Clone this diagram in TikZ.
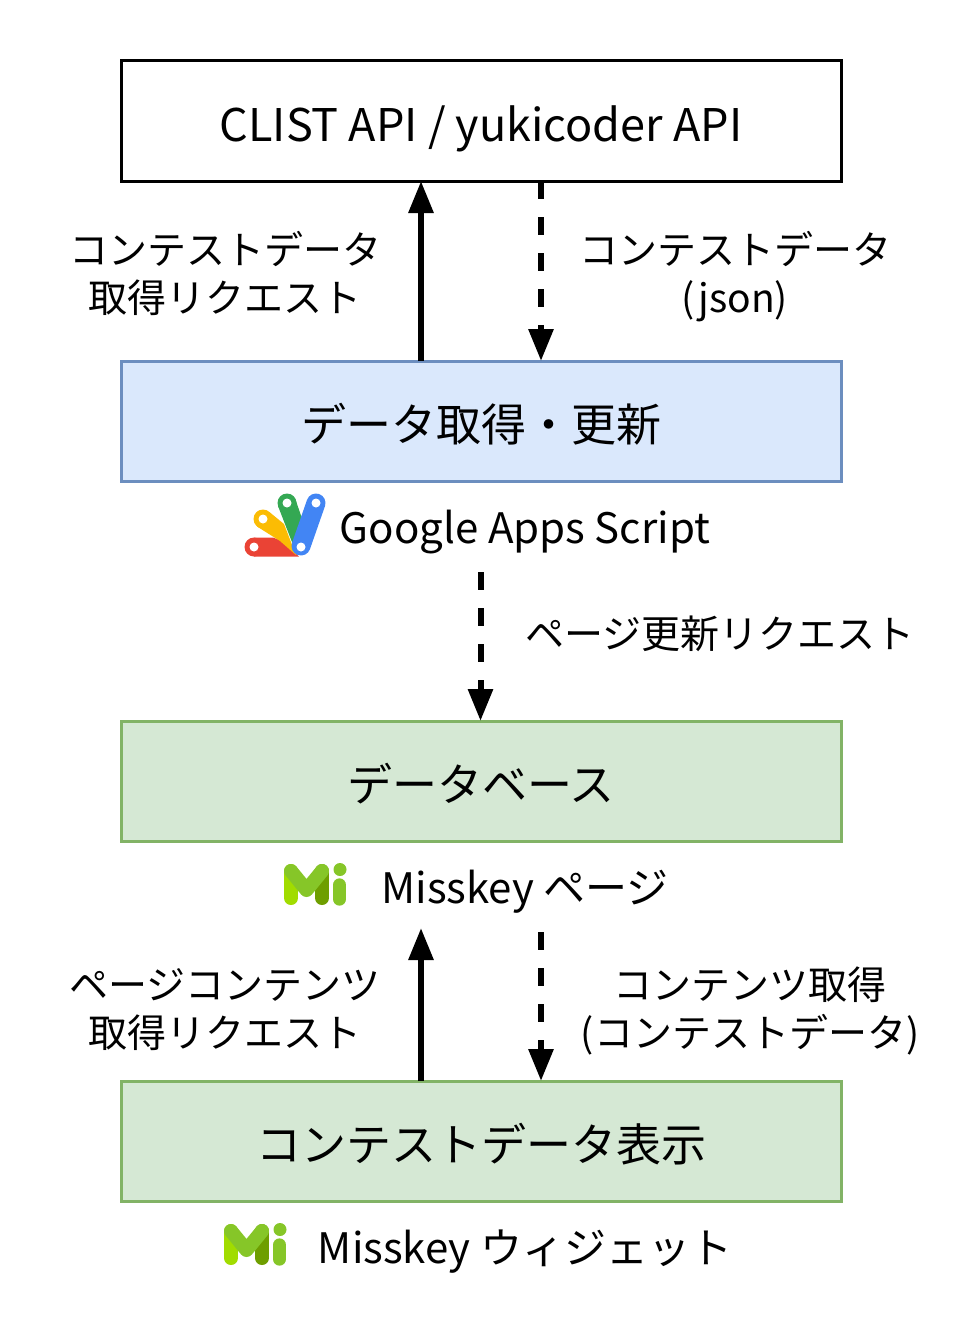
\documentclass[tikz,border=0pt]{standalone}
\usepackage{fontspec}
\setmainfont{Noto Sans CJK JP}
\definecolor{flowBlue}{RGB}{218,232,252}
\definecolor{flowBlueLine}{RGB}{108,142,191}
\definecolor{flowGreen}{RGB}{213,232,212}
\definecolor{flowGreenLine}{RGB}{130,179,102}
\definecolor{gasRed}{RGB}{234,67,53}
\definecolor{gasYellow}{RGB}{251,188,4}
\definecolor{gasGreen}{RGB}{52,168,83}
\definecolor{gasBlue}{RGB}{66,133,244}
\definecolor{miBright}{RGB}{161,220,0}
\definecolor{miMid}{RGB}{134,198,40}
\definecolor{miDark}{RGB}{110,158,0}
\usetikzlibrary{arrows.meta,positioning}
\tikzset{
  flowbox/.style={rectangle, draw=black, fill=white, line width=2.25pt, outer sep=0pt,
        minimum width=540pt, minimum height=90pt, text height=35pt, text depth=5pt,
        font=\fontsize{33.75}{40}\selectfont},
  caption/.style={inner sep=0pt, font=\fontsize{29.25}{36}\selectfont, align=center},
  logotext/.style={inner sep=0pt, font=\fontsize{31.5}{38}\selectfont},
  solidflow/.style={line width=4.5pt, -{Triangle[length=24pt,width=18pt]}},
  dashflow/.style={line width=4.5pt, dash pattern=on 13.5pt off 13.5pt, -{Triangle[length=24pt,width=18pt]}}
}
\newcommand{\misskeylogo}[2]{%
  \begin{scope}[shift={(#1,#2)}]
    \draw[miBright, line width=10.5pt, line cap=round] (291,871) -- (291,898);
    \draw[miDark, line width=10.5pt, line cap=round] (322,871) -- (322,898);
    \draw[miMid, line width=10.5pt, line cap=round, line join=round] (291,871) -- (306.5,890) -- (322,871);
    \fill[miMid] (340,869.5) circle (6.5);
    \draw[miMid, line width=10pt, line cap=round] (339.5,885) -- (339.5,899);
  \end{scope}}
\begin{document}
\begin{tikzpicture}[x=0.75pt, y=-0.75pt]
  \useasboundingbox (0,0) rectangle (960,1320);

  % boxes
  \node[flowbox] (apiBox) at (481,121) {CLIST API / yukicoder API};
  \node[flowbox, draw=flowBlueLine, fill=flowBlue] (fetchBox) at (481,421) {データ取得・更新};
  \node[flowbox, draw=flowGreenLine, fill=flowGreen] (dbBox) at (481,781) {データベース};
  \node[flowbox, draw=flowGreenLine, fill=flowGreen] (showBox) at (481,1141) {コンテストデータ表示};

  % captions
  \node[logotext] (gasText) at (525,532) {Google Apps Script};
  \node[logotext] (pageText) at (525,892) {Misskey ページ};
  \node[logotext] (widgetText) at (525,1252) {Misskey ウィジェット};
  \node[caption] (askText) at (225,273) {コンテストデータ\\取得リクエスト};
  \node[caption] (jsonText) at (735,277) {コンテストデータ\\(json)};
  \node[caption] (updateText) at (720,634) {ページ更新リクエスト};
  \node[caption] (pageAskText) at (225,1010) {ページコンテンツ\\取得リクエスト};
  \node[caption] (contentText) at (750,1011) {コンテンツ取得\\(コンテストデータ)};

  % connectors
  \coordinate (leftX) at (421,0);
  \coordinate (rightX) at (541,0);
  \coordinate (gasOut) at (480.5,572);
  \coordinate (pageIn) at (421,928);
  \coordinate (pageOut) at (541,932);
  \draw[solidflow] (fetchBox.north -| leftX) -- (apiBox.south -| leftX);
  \draw[dashflow] (apiBox.south -| rightX) -- (fetchBox.north -| rightX);
  \draw[dashflow] (gasOut) -- (dbBox.north -| gasOut);
  \draw[solidflow] (showBox.north -| leftX) -- (pageIn);
  \draw[dashflow] (pageOut) -- (showBox.north -| rightX);

  % Google Apps Script logo
  \fill[gasRed] (254,547) circle (9.5);
  \fill[gasRed] (254,537.5) -- (273,537.5) -- (285,542) -- (294,552) -- (299,556.5) -- (254,556.5) -- cycle;
  \fill[gasYellow] (263,519) circle (9.5);
  \fill[gasYellow] (257,511.5) -- (270,512.5) -- (284,524) -- (296,555) -- (280,541) -- (257,526.5) -- cycle;
  \fill[gasGreen] (287,503) circle (9.5);
  \fill[gasGreen] (278,506) -- (296,501) -- (306,530) -- (297,555) -- cycle;
  \draw[gasBlue, line width=14.25pt, line cap=round] (316,503) -- (301,546);
  \foreach \hx/\hy in {254/547, 263/519, 287/503, 316/503, 301/547}
    \fill[white] (\hx,\hy) circle (4.5);

  % Misskey logos
  \misskeylogo{0}{0}
  \misskeylogo{-60}{360}
\end{tikzpicture}
\end{document}
